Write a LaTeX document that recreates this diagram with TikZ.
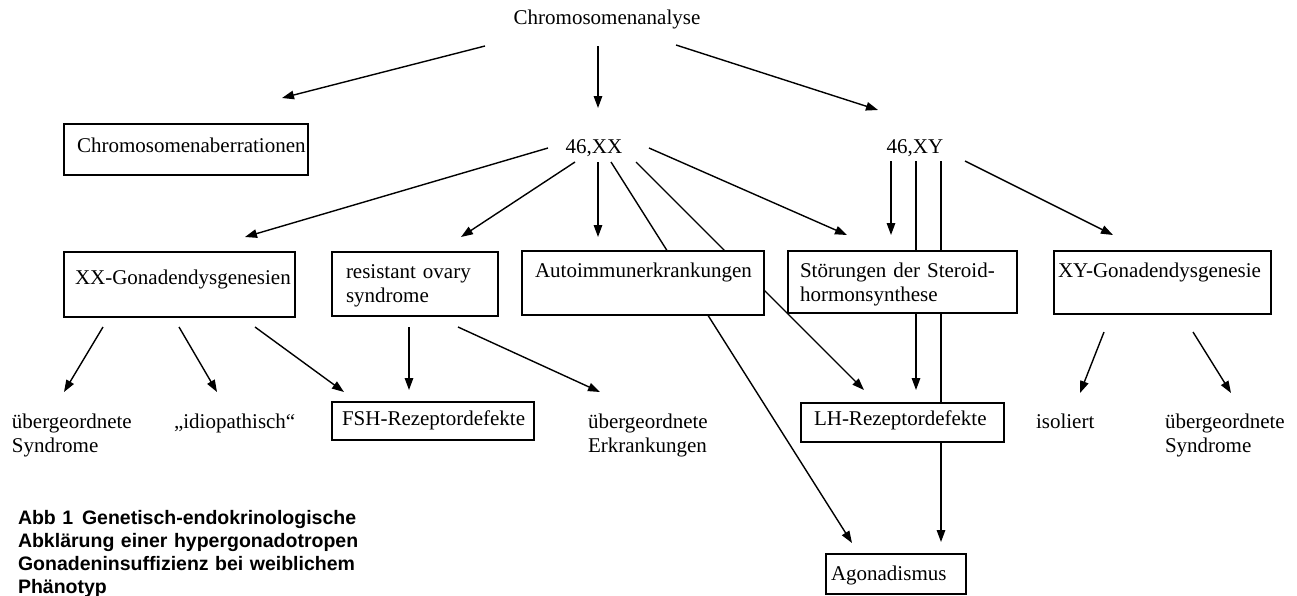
\documentclass[tikz,border=0pt]{standalone}
\usepackage{fontspec}
\setmainfont{Liberation Serif}
\newfontfamily\capfont{Liberation Sans}
\usetikzlibrary{arrows.meta}
\pgfdeclarelayer{bg}
\pgfsetlayers{bg,main}
\begin{document}
\begin{tikzpicture}[x=1pt,y=-1pt,
  every node/.style={inner sep=0pt, outer sep=0pt, font=\fontsize{21}{24}\selectfont},
  lbl/.style={anchor=base},
  free/.style={anchor=base west, align=left, text width=150pt},
  box/.style={draw, line width=1.4pt, fill=white, anchor=north west, align=left, inner ysep=0pt},
  arr/.style={line width=1.4pt, -{Triangle[length=12pt,width=8.5pt]}},
  captxt/.style={anchor=base west, align=left, text width=420pt, font=\capfont\bfseries\fontsize{19.5}{23}\selectfont}
]
\useasboundingbox (0,0) rectangle (1297,595);

% text nodes
\node[lbl] (ana) at (607,24) {Chromosomenanalyse};
\node[lbl] (xx) at (594,153) {46,XX};
\node[lbl] (xy) at (915,153) {46,XY};

% boxes
\node[box, inner xsep=13pt, text width=218pt, text height=28pt, text depth=23pt] (aber) at (64,124) {\mbox{Chromosomenaberrationen}};
\node[box, inner xsep=11pt, text width=209pt, text height=32pt, text depth=33pt] (xxg) at (64,252) {\mbox{XX-Gonadendysgenesien}};
\node[box, inner xsep=14pt, text width=138pt, text height=26pt, text depth=38pt] (ros) at (332,252) {resistant ovary\\syndrome};
\node[box, inner xsep=13pt, text width=216pt, text height=26pt, text depth=38pt] (auto) at (522,251) {\mbox{Autoimmunerkrankungen}};
\node[box, inner xsep=12pt, text width=205pt, text height=26pt, text depth=36pt] (ster) at (788,251) {\mbox{Störungen der Steroid-}\\hormonsynthese};
\node[box, inner xsep=4pt, text width=209pt, text height=26pt, text depth=37pt] (xyg) at (1054,251) {\mbox{XY-Gonadendysgenesie}};
\node[box, inner xsep=10pt, text width=182pt, text height=23pt, text depth=15pt] (fsh) at (332,402) {\mbox{FSH-Rezeptordefekte}};
\node[box, inner xsep=13pt, text width=177pt, text height=22pt, text depth=17pt] (lh) at (801,403) {\mbox{LH-Rezeptordefekte}};
\node[box, inner xsep=5pt, text width=130pt, text height=26pt, text depth=14pt] (agon) at (826,554) {Agonadismus};

% free labels
\node[free] (ues) at (12,428) {übergeordnete\\Syndrome};
\node[free] (idio) at (174,428) {„idiopathisch“};
\node[free] (uee) at (588,428) {übergeordnete\\Erkrankungen};
\node[free] (iso) at (1036,428) {isoliert};
\node[free] (ues2) at (1165,428) {übergeordnete\\Syndrome};

% caption
\node[captxt] (cap) at (18,524) {Abb 1\hspace{0.45em}Genetisch-endokrinologische\\Abklärung einer hypergonadotropen\\Gonadeninsuffizienz bei weiblichem\\Phänotyp};

\begin{pgfonlayer}{bg}
\draw[arr] ([shift={(-122,22)}]ana.base) -- ([shift={(218,-26)}]aber.north west);
\draw[arr] ([shift={(-9,22)}]ana.base) -- ([shift={(4,-45)}]xx.base);
\draw[arr] ([shift={(69,21)}]ana.base) -- ([shift={(-37,-43)}]xy.base);

\draw[arr] ([shift={(-46,-5)}]xx.base) -- ([shift={(181,-15)}]xxg.north west);
\draw[arr] ([shift={(-19,9)}]xx.base) -- ([shift={(129,-15)}]ros.north west);
\draw[arr] ([shift={(4,9)}]xx.base) -- ([shift={(76,-14)}]auto.north west);
\draw[arr] ([shift={(17,9)}]xx.base) -- ([shift={(26,-11)}]agon.north west);
\draw[arr] ([shift={(42,9)}]xx.base) -- ([shift={(63,-13)}]lh.north west);
\draw[arr] ([shift={(55,-5)}]xx.base) -- ([shift={(59,-16)}]ster.north west);

\draw[arr] ([shift={(-24,8)}]xy.base) -- ([shift={(103,-16)}]ster.north west);
\draw[arr] ([shift={(1,8)}]xy.base) -- ([shift={(115,-13)}]lh.north west);
\draw[arr] ([shift={(26,8)}]xy.base) -- ([shift={(115,-12)}]agon.north west);
\draw[arr] ([shift={(50,8)}]xy.base) -- ([shift={(59,-16)}]xyg.north west);

\draw[arr] ([shift={(39,75)}]xxg.north west) -- ([shift={(52,-36)}]ues.base west);
\draw[arr] ([shift={(115,75)}]xxg.north west) -- ([shift={(43,-36)}]idio.base west);
\draw[arr] ([shift={(191,75)}]xxg.north west) -- ([shift={(12,-10)}]fsh.north west);
\draw[arr] ([shift={(77,75)}]ros.north west) -- ([shift={(77,-12)}]fsh.north west);
\draw[arr] ([shift={(126,75)}]ros.north west) -- ([shift={(12,-36)}]uee.base west);

\draw[arr] ([shift={(50,81)}]xyg.north west) -- ([shift={(44,-35)}]iso.base west);
\draw[arr] ([shift={(139,81)}]xyg.north west) -- ([shift={(66,-35)}]ues2.base west);
\end{pgfonlayer}
\end{tikzpicture}
\end{document}
